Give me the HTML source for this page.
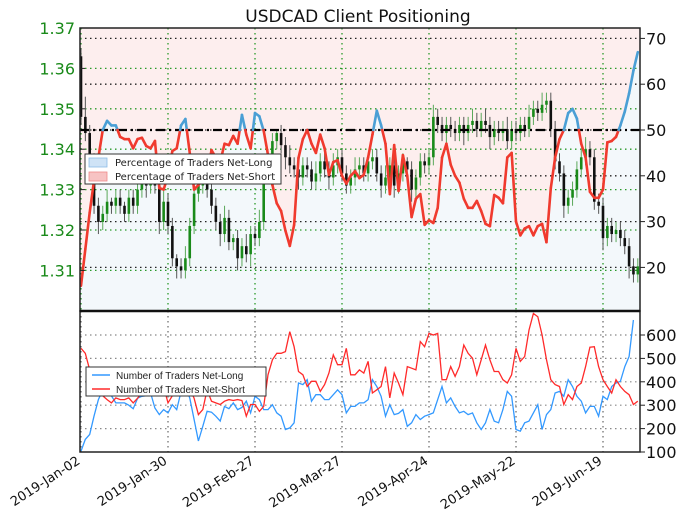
<!DOCTYPE html>
<html><head><meta charset="utf-8">
<style>
html,body{margin:0;padding:0;background:#fff;}
svg{display:block;font-family:"DejaVu Sans","Liberation Sans",sans-serif;}
</style></head>
<body>
<svg id="chart" width="680" height="518" viewBox="0 0 680 518" xmlns="http://www.w3.org/2000/svg">
<defs>
<clipPath id="clipTop"><rect x="80" y="28" width="560" height="283"/></clipPath>
<clipPath id="clipBot"><rect x="80" y="311" width="560" height="141"/></clipPath>
</defs>
<text x="358" y="22" font-size="17" text-anchor="middle" fill="#111">USDCAD Client Positioning</text>
<g id="topFill" clip-path="url(#clipTop)"></g>
<g id="topGrid"></g>
<g id="candles" clip-path="url(#clipTop)"></g>
<g id="sentLine" clip-path="url(#clipTop)"></g>
<g id="botGrid"></g>
<g id="botLines" clip-path="url(#clipBot)"></g>
<g id="axes"></g>
</svg>
<script>
const dateLabels = ["2019-Jan-02","2019-Jan-30","2019-Feb-27","2019-Mar-27","2019-Apr-24","2019-May-22","2019-Jun-19"];
const dateTickIdx = [0,20,40,60,80,100,120];
const priceTicks = [1.31,1.32,1.33,1.34,1.35,1.36,1.37];
const pctTicks = [20,30,40,50,60,70];
const cntTicks = [100,200,300,400,500,600];
const firstOpen = 1.363;
const closes = [1.348,1.344,1.338,1.326,1.322,1.324,1.327,1.326,1.328,1.326,1.324,1.328,1.326,1.330,1.333,1.331,1.333,1.331,1.322,1.327,
1.321,1.313,1.311,1.310,1.313,1.321,1.329,1.331,1.333,1.330,1.326,1.322,1.319,1.323,1.317,1.318,1.313,1.316,1.314,1.319,
1.318,1.322,1.334,1.338,1.342,1.344,1.341,1.338,1.336,1.335,1.333,1.336,1.335,1.332,1.334,1.337,1.335,1.333,1.336,1.338,
1.334,1.331,1.333,1.335,1.336,1.334,1.337,1.338,1.334,1.331,1.333,1.336,1.331,1.334,1.337,1.335,1.330,1.333,1.337,1.336,
1.338,1.348,1.346,1.344,1.346,1.345,1.344,1.346,1.344,1.346,1.347,1.345,1.347,1.346,1.343,1.345,1.344,1.345,1.342,1.345,
1.344,1.346,1.345,1.348,1.350,1.349,1.351,1.352,1.345,1.337,1.334,1.326,1.328,1.330,1.335,1.338,1.340,1.338,1.327,1.326,
1.318,1.321,1.319,1.320,1.318,1.316,1.311,1.309,1.311];
const wickUp = [2,5,2,1,2,2,3,1,2,2,1,2,2,3,2,2,2,2,2,3,2,2,1,2,3,2,2,3,2,2,2,2,2,3,2,1,2,2,3,2,2,3,2,2,2,1,2,2,3,2,2,2,2,2,3,2,2,2,3,2,2,2,2,3,2,2,2,2,2,2,3,2,2,2,2,1,2,2,2,2,
2,3,2,2,2,2,2,2,2,2,3,2,2,3,2,2,2,2,3,2,2,2,2,3,2,2,3,2,2,2,2,2,2,2,2,2,3,2,2,2,2,2,2,2,2,2,2,2,2];
const wickDn = [2,2,3,2,3,2,2,2,2,2,2,2,2,2,2,3,2,2,3,2,2,2,3,2,2,2,2,2,2,2,2,2,3,2,2,2,3,2,2,3,2,2,2,2,2,2,2,3,2,2,3,2,2,2,2,2,2,3,2,2,2,2,2,2,2,2,2,2,2,3,2,2,3,2,2,2,3,2,2,2,
2,2,2,2,3,2,2,2,3,2,2,2,2,2,3,2,2,2,2,2,2,2,2,2,2,2,2,2,2,2,2,3,2,2,2,2,2,2,2,2,3,2,2,2,2,2,3,2,2];
const pctLong = [16,24,32,39,44,50,52,51,51,48.5,48,48,46,48,48.3,46.5,46,47.6,37.3,37,
40,45.4,46,51,52.4,45,37,38,39,40,45.6,44,43,47,46.7,48.7,47,53.3,49,46,
53.7,53,49.8,44.5,38,34,32.3,28,24.7,29.3,43.9,48,50,47,45,49,46,40.2,43,43.4,
40,38.3,40,41,39.5,40.2,44,49,54.2,51,47,36,46.7,36.7,44.5,40,31,35,36,29.3,
30.3,29.7,33,44,47,42.4,40,38.5,35,33,33,34.5,32.3,29.5,29,35.8,35.2,34,44,45,
30,27,28.5,29,27,29,29.5,25.5,37.3,44,48,50,53.7,54.6,52.5,47,44,36.5,35.2,35.2,
37,47.3,47.6,48.5,51,54,58,63,67];
const netLong = [104,154,175,253,324,366,380,340,310,310,310,300,285,330,338,340,352,288,260,281,
267,302,281,359,380,330,239,147,210,274,270,253,232,295,285,310,281,290,317,267,
338,324,281,281,302,267,253,196,203,225,395,388,409,317,345,345,324,324,345,366,
345,267,295,295,310,310,324,409,380,338,253,302,260,265,281,210,225,260,239,253,
260,267,324,380,310,331,295,267,274,260,267,225,196,225,281,232,225,281,359,338,
196,189,225,232,267,302,196,260,281,352,359,338,409,380,338,317,267,295,295,253,
338,324,380,395,402,465,508,664];
const netShort = [543,522,451,420,380,340,324,310,331,324,324,331,310,330,352,380,390,400,405,380,
310,340,380,370,380,370,330,260,281,366,317,310,303,317,324,320,324,320,253,303,
303,274,295,430,494,522,522,529,614,550,444,430,380,402,402,359,388,437,515,473,
473,543,430,430,451,437,487,352,366,380,465,331,437,395,345,465,458,451,572,550,
607,600,607,409,409,465,423,465,557,522,501,430,494,557,494,444,444,409,395,430,
543,487,508,621,692,678,600,494,409,388,380,303,345,324,380,395,465,548,550,465,
409,380,352,409,380,359,345,303,317];

const NS="http://www.w3.org/2000/svg";
function mk(tag,attrs,parent){const e=document.createElementNS(NS,tag);for(const k in attrs)e.setAttribute(k,attrs[k]);parent.appendChild(e);return e;}
const xI = i => 81 + 4.35*i;
const yPrice = p => 28 + (1.37-p)*4040;
const yPct = v => 130 - (v-50)*4.58;
const yCnt = v => 452 - (v-100)*0.234;
const L=80,R=640,T=28,M=311,Bb=452;

const fillG=document.getElementById('topFill');
let pts=pctLong.map((v,i)=>xI(i).toFixed(1)+','+yPct(v).toFixed(1));
let pink=mk('polygon',{points:L+','+T+' '+pts.join(' ')+' '+R+','+yPct(pctLong[pctLong.length-1]).toFixed(1)+' '+R+','+T,fill:'#fdeeee'},fillG);


let blue=mk('polygon',{points:L+','+M+' '+L+','+yPct(pctLong[0]).toFixed(1)+' '+pts.join(' ')+' '+R+','+yPct(pctLong[pctLong.length-1]).toFixed(1)+' '+R+','+M,fill:'#f3f8fb'},fillG);



const tg=document.getElementById('topGrid');
pctTicks.forEach(v=>{const ln=mk('line',{x1:L,x2:R,y1:yPct(v),y2:yPct(v),stroke:'#222','stroke-width':1.3,'stroke-dasharray':'1.5,3.5'},tg);

});
priceTicks.forEach(p=>{if(p>=1.37)return;const ln=mk('line',{x1:L,x2:R,y1:yPrice(p),y2:yPrice(p),stroke:'#2a9a2a','stroke-width':1.3,'stroke-dasharray':'1.5,3.5'},tg);

});
dateTickIdx.forEach(i=>{const x=xI(i);const ln=mk('line',{x1:x,x2:x,y1:T,y2:M,stroke:'#2a9a2a','stroke-width':1.3,'stroke-dasharray':'1.5,3.5'},tg);

});

const cg=document.getElementById('candles');
closes.forEach((c,i)=>{
  const o = i===0?firstOpen:closes[i-1];
  const up=c>=o, x=xI(i);
  const hi=Math.max(o,c)+wickUp[i]*0.001, lo=Math.min(o,c)-wickDn[i]*0.001;
  const col=up?'#1a8a1a':'#111';
  const w=mk('line',{x1:x,x2:x,y1:yPrice(hi),y2:yPrice(lo),stroke:up?'#5aa85a':'#555','stroke-width':1},cg);
  
  
  const y1=yPrice(Math.max(o,c)),y2=yPrice(Math.min(o,c));
  const b=mk('rect',{x:x-1.3,y:y1,width:2.6,height:Math.max(1,y2-y1),fill:col},cg);
  
  
});

const fifty=mk('line',{x1:L,x2:R,y1:yPct(50),y2:yPct(50),stroke:'#000','stroke-width':2.2,'stroke-dasharray':'9,4,2,4'},document.getElementById('sentLine'));



const sg=document.getElementById('sentLine');
for(let i=0;i<pctLong.length-1;i++){
  const a=pctLong[i],b=pctLong[i+1];
  const x0=xI(i),x1=xI(i+1);
  const segs=[];
  if((a>=50)===(b>=50)) segs.push([x0,a,x1,b,a>=50]);
  else{const t=(50-a)/(b-a);const xm=x0+t*(x1-x0);segs.push([x0,a,xm,50,a>=50]);segs.push([xm,50,x1,b,b>=50]);}
  segs.forEach(s=>{const ln=mk('line',{x1:s[0],y1:yPct(s[1]),x2:s[2],y2:yPct(s[3]),stroke:s[4]?'#4a9fd5':'#f03a2e','stroke-width':2.6,'stroke-linecap':'round'},sg);
  
  });
}

const bg=document.getElementById('botGrid');
cntTicks.forEach(v=>{if(v===100)return;const ln=mk('line',{x1:L,x2:R,y1:yCnt(v),y2:yCnt(v),stroke:'#888','stroke-width':1.2,'stroke-dasharray':'1.5,3.5'},bg);

});
dateTickIdx.forEach(i=>{const x=xI(i);const ln=mk('line',{x1:x,x2:x,y1:M,y2:Bb,stroke:'#666','stroke-width':1.2,'stroke-dasharray':'1.5,3.5'},bg);

});

const bl=document.getElementById('botLines');
const nl=mk('polyline',{points:netLong.map((v,i)=>xI(i).toFixed(1)+','+yCnt(v).toFixed(1)).join(' '),fill:'none',stroke:'#3399ff','stroke-width':1.3},bl);


const ns=mk('polyline',{points:netShort.map((v,i)=>xI(i).toFixed(1)+','+yCnt(v).toFixed(1)).join(' '),fill:'none',stroke:'#ff2a2a','stroke-width':1.3},bl);



const ax=document.getElementById('axes');
const f1=mk('rect',{x:L,y:T,width:R-L,height:M-T,fill:'none',stroke:'#222','stroke-width':1.5},ax);


const f2=mk('rect',{x:L,y:M,width:R-L,height:Bb-M,fill:'none',stroke:'#222','stroke-width':1.5},ax);


const sep=mk('line',{x1:L,x2:R,y1:M,y2:M,stroke:'#111','stroke-width':2.5},ax);


priceTicks.forEach(p=>{const t=mk('text',{x:75,y:yPrice(p)+6,'font-size':16,'text-anchor':'end',fill:'#1a8a1a'},ax);t.textContent=p.toFixed(2);


const tk=mk('line',{x1:L,x2:L+5,y1:yPrice(p),y2:yPrice(p),stroke:'#222'},ax);

});
pctTicks.forEach(v=>{const t=mk('text',{x:646,y:yPct(v)+6,'font-size':16,fill:'#111'},ax);t.textContent=v;


const tk=mk('line',{x1:R,x2:R+5,y1:yPct(v),y2:yPct(v),stroke:'#222'},ax);

});
cntTicks.forEach(v=>{const t=mk('text',{x:646,y:yCnt(v)+6,'font-size':16,fill:'#111'},ax);t.textContent=v;


const tk=mk('line',{x1:R,x2:R+5,y1:yCnt(v),y2:yCnt(v),stroke:'#222'},ax);

});
dateTickIdx.forEach((i,k)=>{const x=xI(i);const t=mk('text',{x:x,y:463,'font-size':13,'text-anchor':'end',fill:'#111',transform:'rotate(-33 '+x+' 463)'},ax);t.textContent=dateLabels[k];

});

function legend(x,y,w,h,items,name,fs,ff){
  const g=mk('g',{},ax);
  
  
  mk('rect',{x:x,y:y,width:w,height:h,fill:'#fff',stroke:'#333','stroke-width':1},g);
  items.forEach((it,k)=>{
    const yy=y+8+k*14;
    if(it.patch){const r=mk('rect',{x:x+4,y:yy-4,width:18,height:9,fill:it.fill,stroke:it.stroke,'stroke-width':0.8},g);
      
      }
    else{const l=mk('line',{x1:x+6,x2:x+24,y1:yy,y2:yy,stroke:it.stroke,'stroke-width':1.5},g);
      
      }
    const t=mk('text',{x:x+30,y:yy+4,'font-size':fs,fill:'#222','font-family':ff},g);t.textContent=it.label;
    
    
  });
}
legend(85,154,196,30,[{patch:1,fill:'#cfe3f6',stroke:'#8dbbe6',label:'Percentage of Traders Net-Long'},{patch:1,fill:'#f7c3c3',stroke:'#ef8a8a',label:'Percentage of Traders Net-Short'}],'sentiment-legend',10,'DejaVu Sans, sans-serif');
legend(86,367,180,29,[{stroke:'#3399ff',label:'Number of Traders Net-Long'},{stroke:'#ff2a2a',label:'Number of Traders Net-Short'}],'count-legend',10,'Liberation Sans, sans-serif');
</script>
</body></html>
